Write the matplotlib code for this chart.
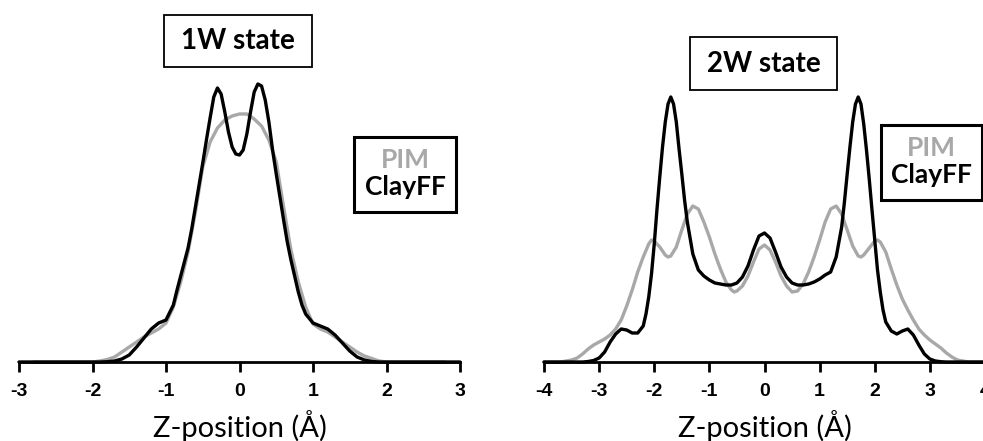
import matplotlib
matplotlib.use("Agg")
import matplotlib.pyplot as plt
from matplotlib.patches import Rectangle

# ------------------------------
# DATA (density profiles, arbitrary units)
# ------------------------------

# 1W state
x_1w_clayff = [-3.0, -2.0, -1.9, -1.8, -1.7, -1.6, -1.5, -1.4, -1.3, -1.2, -1.1, -1.0,
               -0.9, -0.85, -0.8, -0.75, -0.7, -0.65, -0.6, -0.55, -0.5, -0.45, -0.4,
               -0.35, -0.3, -0.25, -0.2, -0.15, -0.1, -0.05, 0.0, 0.05, 0.1, 0.15, 0.2,
               0.25, 0.3, 0.35, 0.4, 0.45, 0.5, 0.55, 0.6, 0.65, 0.7, 0.75, 0.8, 0.85,
               0.9, 1.0, 1.1, 1.2, 1.3, 1.4, 1.5, 1.6, 1.7, 1.8, 1.9, 2.0, 3.0]
y_1w_clayff = [0, 0, 0, 0.3, 1, 3, 7, 15, 24, 33, 39, 42,
               57, 72, 86, 100, 114, 133, 155, 177, 199, 222, 244,
               265, 274, 268, 250, 230, 215, 208, 207, 212, 228, 250, 270,
               278, 276, 262, 240, 212, 188, 165, 142, 120, 102, 86, 70, 57,
               48, 39, 36, 33, 27, 19, 11, 5, 2, 0.5, 0, 0, 0]

x_1w_pim = [-2.8, -2.0, -1.9, -1.8, -1.7, -1.6, -1.5, -1.4, -1.3, -1.2, -1.1, -1.0,
            -0.9, -0.8, -0.7, -0.6, -0.5, -0.4, -0.3, -0.2, -0.1, 0.0, 0.1, 0.2,
            0.3, 0.4, 0.5, 0.6, 0.7, 0.8, 0.9, 1.0, 1.1, 1.2, 1.3, 1.4, 1.5, 1.6,
            1.7, 1.8, 1.9, 2.0, 2.8]
y_1w_pim = [0, 0, 1, 2.5, 5, 10, 15, 20, 25, 29, 33, 39,
            55, 80, 110, 150, 195, 220, 234, 242, 246, 248, 248, 243,
            236, 222, 200, 155, 112, 80, 55, 38, 33, 30, 25, 20, 15, 10,
            6, 3.5, 1, 0, 0]

# 2W state
x_2w_clayff = [-4.0, -3.3, -3.2, -3.1, -3.0, -2.9, -2.8, -2.7, -2.6, -2.5, -2.4, -2.3,
               -2.2, -2.15, -2.1, -2.05, -2.0, -1.95, -1.9, -1.85, -1.8, -1.75, -1.7,
               -1.65, -1.6, -1.55, -1.5, -1.45, -1.4, -1.3, -1.2, -1.1, -1.0, -0.9,
               -0.8, -0.7, -0.6, -0.5, -0.4, -0.3, -0.2, -0.1, 0.0, 0.1, 0.2, 0.3,
               0.4, 0.5, 0.6, 0.7, 0.8, 0.9, 1.0, 1.1, 1.2, 1.3, 1.4, 1.45, 1.5, 1.55,
               1.6, 1.65, 1.7, 1.75, 1.8, 1.85, 1.9, 1.95, 2.0, 2.05, 2.1, 2.15, 2.2,
               2.3, 2.4, 2.5, 2.6, 2.7, 2.8, 2.9, 3.0, 3.1, 3.2, 3.3, 4.0]
y_2w_clayff = [0, 0, 0.5, 1.5, 4, 10, 20, 28, 33, 32, 29, 29,
               36, 48, 65, 88, 118, 153, 185, 215, 240, 258, 265,
               258, 240, 213, 188, 162, 140, 108, 92, 86, 82, 79,
               78, 77, 77, 79, 85, 96, 112, 126, 129, 124, 110, 95,
               85, 79, 77, 77, 78, 80, 83, 87, 90, 105, 135, 160, 188, 215,
               240, 258, 265, 258, 238, 212, 183, 152, 122, 92, 70, 52, 40,
               31, 28, 31, 33, 27, 17, 8, 3, 1, 0.3, 0, 0]

x_2w_pim = [-4.0, -3.7, -3.6, -3.5, -3.4, -3.3, -3.2, -3.1, -3.0, -2.9, -2.8, -2.7,
            -2.6, -2.5, -2.4, -2.3, -2.2, -2.1, -2.05, -2.0, -1.9, -1.8, -1.75,
            -1.7, -1.6, -1.5, -1.4, -1.3, -1.2, -1.1, -1.0, -0.9, -0.8, -0.7, -0.6,
            -0.55, -0.5, -0.4, -0.3, -0.2, -0.1, 0.0, 0.1, 0.2, 0.3, 0.4, 0.5, 0.6,
            0.7, 0.8, 0.9, 1.0, 1.1, 1.2, 1.3, 1.4, 1.5, 1.6, 1.7, 1.75, 1.8, 1.9,
            2.0, 2.05, 2.1, 2.2, 2.3, 2.4, 2.5, 2.6, 2.7, 2.8, 2.9, 3.0, 3.1, 3.2,
            3.3, 3.4, 3.5, 3.6, 3.7, 4.0]
y_2w_pim = [0, 0, 1, 2, 4, 8, 13, 17, 20, 23, 27, 33,
            42, 56, 72, 90, 105, 118, 122, 121, 115, 107, 105,
            106, 115, 132, 148, 156, 153, 140, 125, 108, 93, 80, 72,
            70, 71, 76, 86, 100, 113, 117, 112, 100, 86, 76, 70, 71,
            78, 90, 105, 122, 140, 153, 156, 148, 132, 116, 106, 105, 107, 114,
            121, 122, 120, 110, 93, 77, 63, 52, 42, 33, 27, 22, 18, 14,
            9, 5, 2, 1, 0, 0]

ticks_1w = [-3, -2, -1, 0, 1, 2, 3]
ticks_2w = [-4, -3, -2, -1, 0, 1, 2, 3, 4]

BLACK = "#000000"
GRAY = "#a8a8a8"

# ------------------------------
# FIGURE (positions in pixels of a 983x441 canvas)
# ------------------------------
W, H = 983, 441
fig = plt.figure(figsize=(W / 100, H / 100), dpi=100)


def px_box(left, right, bottom_px, top_px):
    return [left / W, 1 - bottom_px / H, (right - left) / W, (bottom_px - top_px) / H]


def style_axis(ax, xmin, xmax, ticks):
    ax.set_xlim(xmin, xmax)
    ax.set_ylim(0, 362)
    for s in ["left", "right", "top"]:
        ax.spines[s].set_visible(False)
    ax.spines["bottom"].set_linewidth(2)
    ax.set_yticks([])
    ax.set_xticks(ticks)
    ax.set_xticklabels([str(t) for t in ticks])
    ax.tick_params(axis="x", direction="out", length=7, width=2, pad=8)
    for lab in ax.get_xticklabels():
        lab.set_fontfamily(["Liberation Sans Narrow", "Liberation Sans", "DejaVu Sans"])
        lab.set_fontweight("bold")
        lab.set_fontsize(14)
    ax.set_xlabel("Z-position (Å)", fontsize=21, family=["Lato", "DejaVu Sans"], labelpad=7)
    ax.patch.set_visible(False)


ax1 = fig.add_axes(px_box(19, 460, 362, 0))
ax1.plot(x_1w_pim, y_1w_pim, color=GRAY, lw=2.4, solid_capstyle="round", clip_on=False)
ax1.plot(x_1w_clayff, y_1w_clayff, color=BLACK, lw=2.4, solid_capstyle="round", clip_on=False)
style_axis(ax1, -3, 3, ticks_1w)

ax2 = fig.add_axes(px_box(544, 985, 362, 0))
ax2.plot(x_2w_pim, y_2w_pim, color=GRAY, lw=2.4, solid_capstyle="round", clip_on=False)
ax2.plot(x_2w_clayff, y_2w_clayff, color=BLACK, lw=2.4, solid_capstyle="round", clip_on=False)
style_axis(ax2, -4, 4, ticks_2w)

# state labels in boxes
box_font = ["Lato", "DejaVu Sans"]


def state_box(x0, y0, x1, y1, label):
    fig.patches.append(Rectangle((x0 / W, 1 - y1 / H), (x1 - x0) / W, (y1 - y0) / H,
                                 transform=fig.transFigure, fill=True, fc="white",
                                 ec="black", lw=1.3))
    fig.text((x0 + x1) / 2 / W, 1 - (y0 + y1) / 2 / H, label, ha="center", va="center",
             fontsize=20, fontweight="bold", family=box_font)


state_box(164, 15, 312, 67, "1W state")
state_box(690, 37, 837, 90, "2W state")


def legend_box(x0, y0, x1, y1):
    fig.patches.append(Rectangle((x0 / W, 1 - y1 / H), (x1 - x0) / W, (y1 - y0) / H,
                                 transform=fig.transFigure, fill=True, fc="white",
                                 ec="black", lw=2.2))
    cx = (x0 + x1) / 2 / W
    fig.text(cx, 1 - (y0 + 31) / H, "PIM", ha="center", va="baseline", color=GRAY,
             fontsize=19, fontweight="bold", family=box_font)
    fig.text(cx, 1 - (y0 + 58) / H, "ClayFF", ha="center", va="baseline", color=BLACK,
             fontsize=19, fontweight="bold", family=box_font)


legend_box(354, 137, 456, 212)
legend_box(881, 125, 982, 200)

fig.savefig("out.png", dpi=100)
